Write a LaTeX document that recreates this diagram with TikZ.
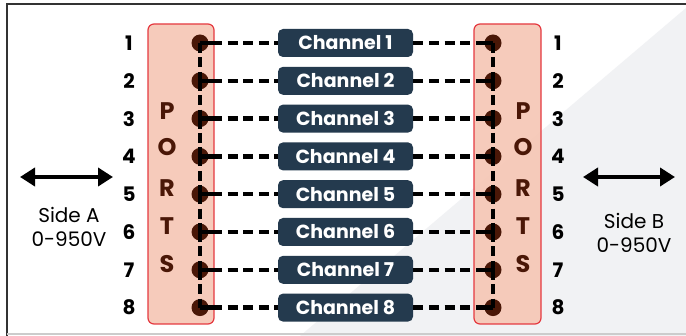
\documentclass[tikz,border=0pt]{standalone}
\usepackage{fontspec}
\setmainfont{Poppins}
\usetikzlibrary{arrows.meta}
\definecolor{navy}{HTML}{243A4E}
\definecolor{portfill}{HTML}{F6C6B4}
\definecolor{portline}{HTML}{E53940}
\definecolor{pin}{HTML}{4A1707}
\definecolor{bggrey}{HTML}{F1F2F4}
\begin{document}
\begin{tikzpicture}[x=0.5pt,y=-0.5pt,
  ch/.style={rectangle,rounded corners=2.5pt,fill=navy,text=white,font=\bfseries\fontsize{9.5}{10}\selectfont,minimum width=67.5pt,minimum height=14pt,inner sep=0pt},
  pt/.style={circle,fill=pin,minimum size=8.5pt,inner sep=0pt},
  num/.style={font=\bfseries\fontsize{10}{10}\selectfont},
  lt/.style={font=\bfseries\fontsize{12}{12}\selectfont,text=pin},
  port/.style={draw=portline,fill=portfill,fill opacity=0.9,rounded corners=3pt,line width=0.6pt},
  wire/.style={line width=2.2pt,dash pattern=on 5pt off 2.8pt},
  bus/.style={line width=2.2pt,pin,dash pattern=on 5pt off 2.2pt},
  side/.style={font=\fontsize{10}{12}\selectfont,align=center},
  dbl/.style={{Triangle[length=7.5pt,width=9pt]}-{Triangle[length=7.5pt,width=9pt]},line width=2pt}]

    \useasboundingbox (0,0) rectangle (686,336);
    \fill[white] (0,0) rectangle (686,336);
    \fill[bggrey] (300,336) -- (686,8) -- (686,336) -- cycle;
    \draw[black!80,line width=1.2pt] (7,336) -- (7,4) -- (686,4);
    \draw[black!20,line width=1pt] (7,334) -- (686,334);

    % port blocks
    \draw[port] (148,24) rectangle (214,324);
    \draw[port] (474,24) rectangle (541,324);

    \foreach \i in {1,...,8}{
        \pgfmathsetmacro\y{43+(\i-1)*37.8}
        \node[pt] (a\i) at (200,\y) {};
        \node[pt] (b\i) at (493,\y) {};
        \node[ch] (c\i) at (345.5,\y) {Channel \i};
        \node[num] (na\i) at (129,\y) {\i};
        \node[num] (nb\i) at (558,\y) {\i};
    }

    % wires to the channels
    \foreach \i in {1,...,8}{
        \draw[line width=2.2pt,pin] (a\i.center) -- ++(12,0) coordinate (ta\i);
        \draw[line width=2.2pt,pin] (b\i.center) -- ++(-12,0) coordinate (tb\i);
        \draw[wire] (ta\i) -- (c\i.west);
        \draw[wire] (c\i.east) -- (tb\i);
    }
    \foreach \i [count=\j from 2] in {1,...,7}{
        \draw[bus] (a\i.center) -- (a\j.center);
        \draw[bus] (b\i.center) -- (b\j.center);
    }

    % port letters
    \foreach \l/\y in {P/111,O/147,R/188,T/226,S/264}{
        \node[lt] (pa\l) at (167,\y) {\l};
        \node[lt] (pb\l) at (523,\y) {\l};
    }

    % sides
    \coordinate (al) at (20,177);
    \coordinate (ar) at (113,177);
    \coordinate (bl) at (583,177);
    \coordinate (br) at (675,177);
    \draw[dbl] (al) -- (ar);
    \draw[dbl] (bl) -- (br);
    \node[side] (sa) at (69,227) {Side A\\0-950V};
    \node[side] (sb) at (634,233) {Side B\\0-950V};
\end{tikzpicture}
\end{document}
